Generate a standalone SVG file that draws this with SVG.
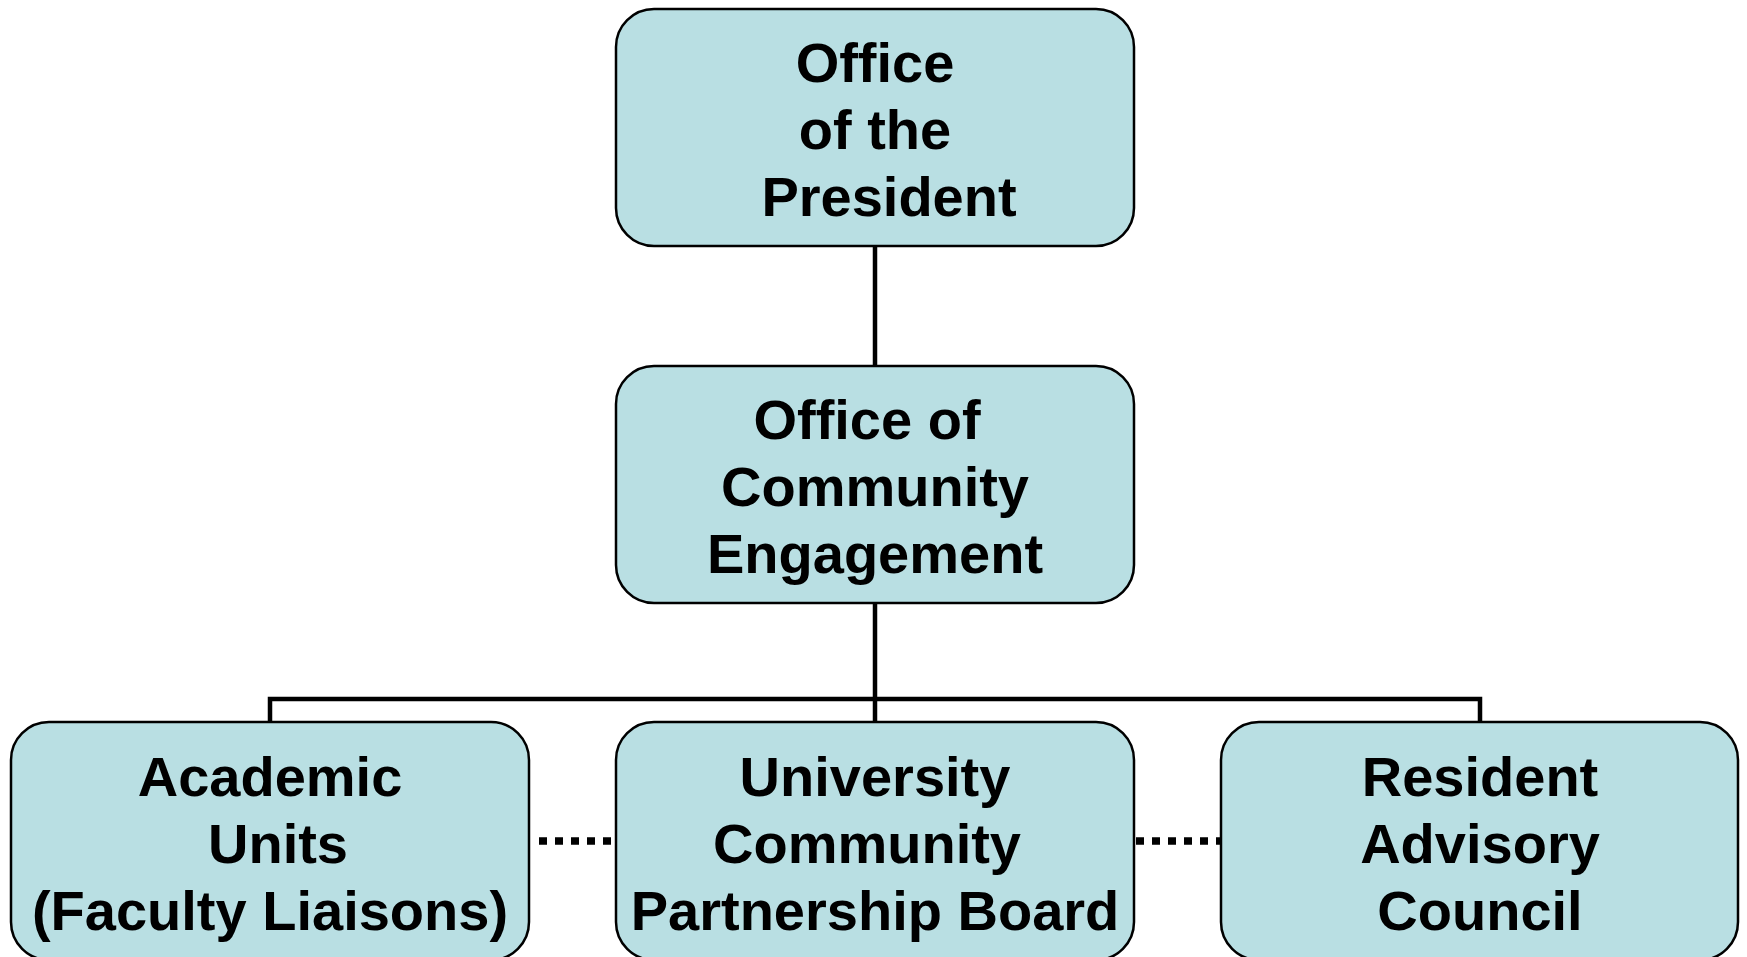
<svg xmlns="http://www.w3.org/2000/svg" width="1747" height="957" viewBox="0 0 1747 957">
<style>
.box{fill:#B9DFE3;stroke:#000;stroke-width:2.5}
.t{font-family:"Liberation Sans",Arial,sans-serif;font-weight:bold;font-size:56px;fill:#000;text-anchor:middle}
.c{stroke:#000;stroke-width:4.5;fill:none}
.d{stroke:#000;stroke-width:7.5;stroke-dasharray:8 8;fill:none}
</style>
<rect width="1747" height="957" fill="#fff"/>
<g id="connectors">
<line class="c" x1="875" y1="246" x2="875" y2="365"/>
<line class="c" x1="875" y1="603" x2="875" y2="722"/>
<polyline class="c" points="270,722 270,699 1480,699 1480,722"/>
<line class="d" x1="539" y1="841" x2="612" y2="841"/>
<line class="d" x1="1136" y1="841" x2="1221" y2="841"/>
</g>
<g id="president">
<rect class="box" x="616" y="9" width="518" height="237" rx="38"/>
<text class="t" x="875" y="82">Office</text>
<text class="t" x="875" y="149">of the</text>
<text class="t" x="889" y="216">President</text>
</g>
<g id="community-engagement">
<rect class="box" x="616" y="366" width="518" height="237" rx="38"/>
<text class="t" x="867" y="439">Office of</text>
<text class="t" x="875" y="506">Community</text>
<text class="t" x="875" y="573">Engagement</text>
</g>
<g id="academic-units">
<rect class="box" x="11" y="722" width="518" height="238" rx="38"/>
<text class="t" x="270" y="796">Academic</text>
<text class="t" x="278" y="863">Units</text>
<text class="t" x="270" y="930">(Faculty Liaisons)</text>
</g>
<g id="partnership-board">
<rect class="box" x="616" y="722" width="518" height="238" rx="38"/>
<text class="t" x="875" y="796">University</text>
<text class="t" x="867" y="863">Community</text>
<text class="t" x="875" y="930">Partnership Board</text>
</g>
<g id="resident-advisory">
<rect class="box" x="1221" y="722" width="517" height="238" rx="38"/>
<text class="t" x="1480" y="796">Resident</text>
<text class="t" x="1480" y="863">Advisory</text>
<text class="t" x="1480" y="930">Council</text>
</g>
</svg>
